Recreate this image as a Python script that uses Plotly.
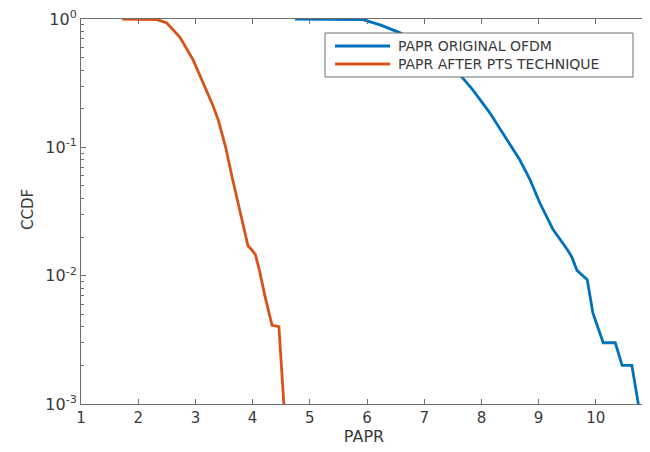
import plotly.graph_objects as go

# Data
papr_orig = [4.74, 5.2, 5.6, 5.93, 6.23, 6.58, 7.0, 7.3, 7.63, 7.85, 8.15, 8.45, 8.67, 8.85,
             9.02, 9.25, 9.43, 9.51, 9.58, 9.67, 9.85, 9.95, 10.13, 10.34, 10.46, 10.63, 10.78]
ccdf_orig = [1.0, 1.0, 0.998, 0.99, 0.90, 0.78, 0.60, 0.47, 0.365, 0.28, 0.185, 0.114, 0.080, 0.056,
             0.037, 0.023, 0.018, 0.0158, 0.014, 0.011, 0.0093, 0.0051, 0.003, 0.003, 0.002, 0.002, 0.0008]

papr_pts = [1.72, 2.0, 2.33, 2.5, 2.73, 2.96, 3.13, 3.31, 3.40, 3.46, 3.53, 3.64, 3.75, 3.83,
            3.92, 3.98, 4.05, 4.12, 4.22, 4.34, 4.46, 4.56]
ccdf_pts = [1.0, 1.0, 0.99, 0.93, 0.72, 0.48, 0.32, 0.21, 0.163, 0.13, 0.10, 0.059, 0.037, 0.026,
            0.017, 0.016, 0.0145, 0.011, 0.0068, 0.0041, 0.004, 0.0008]

series_names = ["PAPR ORIGINAL OFDM", "PAPR AFTER PTS TECHNIQUE"]
x_ticks = [1, 2, 3, 4, 5, 6, 7, 8, 9, 10]
y_ticks = [1, 0.1, 0.01, 0.001]
y_ticktext = ["10<sup>0</sup>", "10<sup>-1</sup>", "10<sup>-2</sup>", "10<sup>-3</sup>"]
y_minor = [m * d for d in (0.001, 0.01, 0.1) for m in range(2, 10)]

blue = "#0072BD"
orange = "#D95319"
colors = [blue, orange]
axis_col = "#6e6e6e"
txt_col = "#3a3a3a"
font_fam = "DejaVu Sans, Liberation Sans, Arial, sans-serif"

# screen-pixel geometry of the plot box (page body adds an 8px offset)
OFF = 8
SL, SR, ST, SB = 81, 647, 19, 404
L, R, T, B = SL - OFF, SR - OFF, ST - OFF, SB - OFF
FW, FH = 650, 452


def px(sx):
    return (sx - SL) / (SR - SL)


def py(sy):
    return (SB - sy) / (SB - ST)


fig = go.Figure()
for xs, ys, nm, c in [(papr_orig, ccdf_orig, series_names[0], blue),
                      (papr_pts, ccdf_pts, series_names[1], orange)]:
    fig.add_trace(go.Scatter(x=xs, y=ys, mode="lines", name=nm, showlegend=False,
                             line=dict(color=c, width=2.8)))
# invisible trace to carry the right-hand mirrored log axis
fig.add_trace(go.Scatter(x=[None], y=[None], yaxis="y2", showlegend=False, hoverinfo="skip"))

fig.update_layout(
    template="none",
    width=FW, height=FH,
    margin=dict(l=L, r=FW - R, t=T, b=FH - B, autoexpand=False),
    paper_bgcolor="white", plot_bgcolor="white",
    font=dict(family=font_fam, color=txt_col, size=13),
    showlegend=False,
    xaxis=dict(range=[1, 1 + (SR - SL) / 57.2], tickvals=x_ticks, automargin=False,
               ticks="inside", ticklen=5, tickcolor=axis_col, mirror="ticks",
               showline=True, linecolor=axis_col, linewidth=1, showgrid=False, zeroline=False,
               ticklabeloverflow="allow",
               tickfont=dict(size=15), title=dict(text="PAPR", font=dict(size=16), standoff=4)),
    yaxis=dict(type="log", range=[-3, 0], tickvals=y_ticks, ticktext=y_ticktext, automargin=False,
               ticks="inside", ticklen=5, tickcolor=axis_col, mirror=True,
               showline=True, linecolor=axis_col, linewidth=1, showgrid=False, zeroline=False,
               ticklabeloverflow="allow",
               minor=dict(tickvals=y_minor, ticks="inside", ticklen=3, tickcolor=axis_col, showgrid=False),
               tickfont=dict(size=16)),
    yaxis2=dict(type="log", range=[-3, 0], overlaying="y", side="right", showticklabels=False,
                tickvals=y_ticks, ticks="inside", ticklen=5, tickcolor=axis_col, automargin=False,
                showline=False, showgrid=False, zeroline=False,
                minor=dict(tickvals=y_minor, ticks="inside", ticklen=3, tickcolor=axis_col, showgrid=False)),
)

# y-axis title
fig.add_annotation(text="CCDF", xref="paper", yref="paper", x=px(28), y=py(210), textangle=-90,
                   showarrow=False, xanchor="center", yanchor="middle",
                   font=dict(size=15, color=txt_col))
# partially visible last tick label
fig.add_annotation(text="11", xref="paper", yref="paper", x=px(653), y=0,
                   yshift=-16, showarrow=False, xanchor="center", yanchor="middle",
                   font=dict(size=15, color=txt_col))

# legend box (drawn above the curves)
fig.add_shape(type="rect", xref="paper", yref="paper", x0=px(325), x1=px(633), y0=py(77), y1=py(33),
              fillcolor="white", line=dict(color=axis_col, width=1), layer="above")
for i, (nm, c) in enumerate(zip(series_names, colors)):
    sy = 46 + 18 * i
    fig.add_shape(type="line", xref="paper", yref="paper", x0=px(335), x1=px(390), y0=py(sy), y1=py(sy),
                  line=dict(color=c, width=2.8), layer="above")
    fig.add_annotation(text=nm, xref="paper", yref="paper", x=px(396), y=py(sy),
                       showarrow=False, xanchor="left", yanchor="middle",
                       font=dict(size=14, color=txt_col))

fig.write_html("out.html")
